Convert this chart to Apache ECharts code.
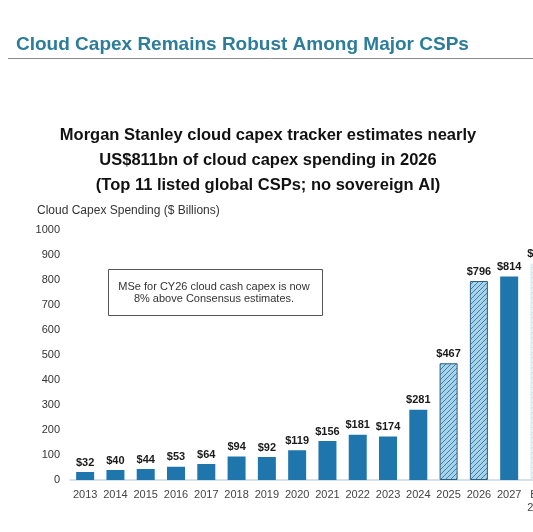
<!DOCTYPE html>
<html>
<head>
<meta charset="utf-8">
<script src="https://cdn.jsdelivr.net/npm/echarts@6/dist/echarts.min.js"></script>
<style>
  html, body { margin: 0; padding: 0; background: #fff; }
  #main { width: 533px; height: 532px; }
</style>
</head>
<body>
<div id="main"></div>
<script>
// data
var years = ['2013', '2014', '2015', '2016', '2017', '2018', '2019', '2020',
             '2021', '2022', '2023', '2024', '2025', '2026', '2027', 'Bull\n2026'];
var capex = [32, 40, 44, 53, 64, 94, 92, 119, 156, 181, 174, 281, 467, 796, 814, 865];
// 0 = reported (solid), 1 = estimate (hatched), 2 = cut-off bar at right edge
var barKind = [0, 0, 0, 0, 0, 0, 0, 0, 0, 0, 0, 0, 1, 1, 0, 2];
var yTicks = [0, 1000, 100];

var myChart = echarts.init(document.getElementById('main'));

// diagonal hatch fill
function hatch(bg, fg) {
    var c = document.createElement('canvas');
    c.width = 5; c.height = 5;
    var ctx = c.getContext('2d');
    ctx.fillStyle = bg;
    ctx.fillRect(0, 0, 5, 5);
    ctx.strokeStyle = fg;
    ctx.lineWidth = 1;
    ctx.beginPath();
    ctx.moveTo(0, 5); ctx.lineTo(5, 0);
    ctx.moveTo(-1, 1); ctx.lineTo(1, -1);
    ctx.moveTo(4, 6); ctx.lineTo(6, 4);
    ctx.stroke();
    return { image: c, repeat: 'repeat' };
}

var styles = [
    { color: '#1f76ad' },
    { color: hatch('#a6d3ea', '#3f7ea6'), borderColor: '#2c5f80', borderWidth: 1 },
    { color: hatch('#e6f4f8', '#c9e3ec'), borderColor: '#d5e9ef', borderWidth: 1 }
];

var barData = capex.map(function (v, i) {
    return { value: v, itemStyle: styles[barKind[i]] };
});

var option = {
    animation: false,
    // the source picture is cropped: the last bar runs off the right edge
    grid: { left: 70, width: 484.6, top: 230, bottom: 52, outerBoundsMode: 'none', containLabel: false },
    xAxis: {
        type: 'category',
        data: years,
        axisLine: { lineStyle: { color: '#c9d6e3', width: 1.5 } },
        axisTick: { show: false },
        axisLabel: {
            color: '#444', fontSize: 11, fontFamily: 'Arial, Liberation Sans',
            margin: 8, interval: 0, lineHeight: 13
        }
    },
    yAxis: {
        type: 'value',
        min: yTicks[0], max: yTicks[1], interval: yTicks[2],
        splitLine: { show: false },
        axisLine: { show: false },
        axisTick: { show: false },
        axisLabel: {
            color: '#333', fontSize: 11, fontFamily: 'Arial, Liberation Sans', margin: 10,
            formatter: function (v) { return String(v); }
        }
    },
    series: [{
        type: 'bar',
        barWidth: 18,
        data: barData,
        label: {
            show: true,
            position: 'top',
            distance: 4,
            formatter: function (p) { return '$' + p.value; },
            color: '#1a1a1a',
            fontWeight: 'bold',
            fontSize: 11,
            fontFamily: 'Arial, Liberation Sans'
        }
    }],
    graphic: [
        {
            type: 'text', left: 16, top: 35,
            style: {
                text: 'Cloud Capex Remains Robust Among Major CSPs',
                fill: '#2b7d99', font: 'bold 19px Arial, Liberation Sans'
            }
        },
        {
            type: 'line',
            shape: { x1: 8, y1: 58.5, x2: 533, y2: 58.5 },
            style: { stroke: '#8a8a8a', lineWidth: 1 }
        },
        {
            type: 'text', x: 268, y: 160,
            style: {
                text: 'Morgan Stanley cloud capex tracker estimates nearly\nUS$811bn of cloud capex spending in 2026\n(Top 11 listed global CSPs; no sovereign AI)',
                fill: '#111', font: 'bold 16.5px Arial, Liberation Sans',
                align: 'center', verticalAlign: 'middle', lineHeight: 25
            }
        },
        {
            type: 'text', left: 37, top: 205,
            style: {
                text: 'Cloud Capex Spending ($ Billions)',
                fill: '#333', font: '12px Arial, Liberation Sans'
            }
        },
        {
            type: 'rect',
            shape: { x: 108.5, y: 269.5, width: 214, height: 46 },
            style: { fill: '#fff', stroke: '#555', lineWidth: 1 }
        },
        {
            type: 'text', x: 214, y: 293,
            style: {
                text: 'MSe for CY26 cloud cash capex is now\n8% above Consensus estimates.',
                fill: '#333', font: '11px Arial, Liberation Sans',
                align: 'center', verticalAlign: 'middle', lineHeight: 12
            }
        }
    ]
};

myChart.setOption(option);
</script>
</body>
</html>
